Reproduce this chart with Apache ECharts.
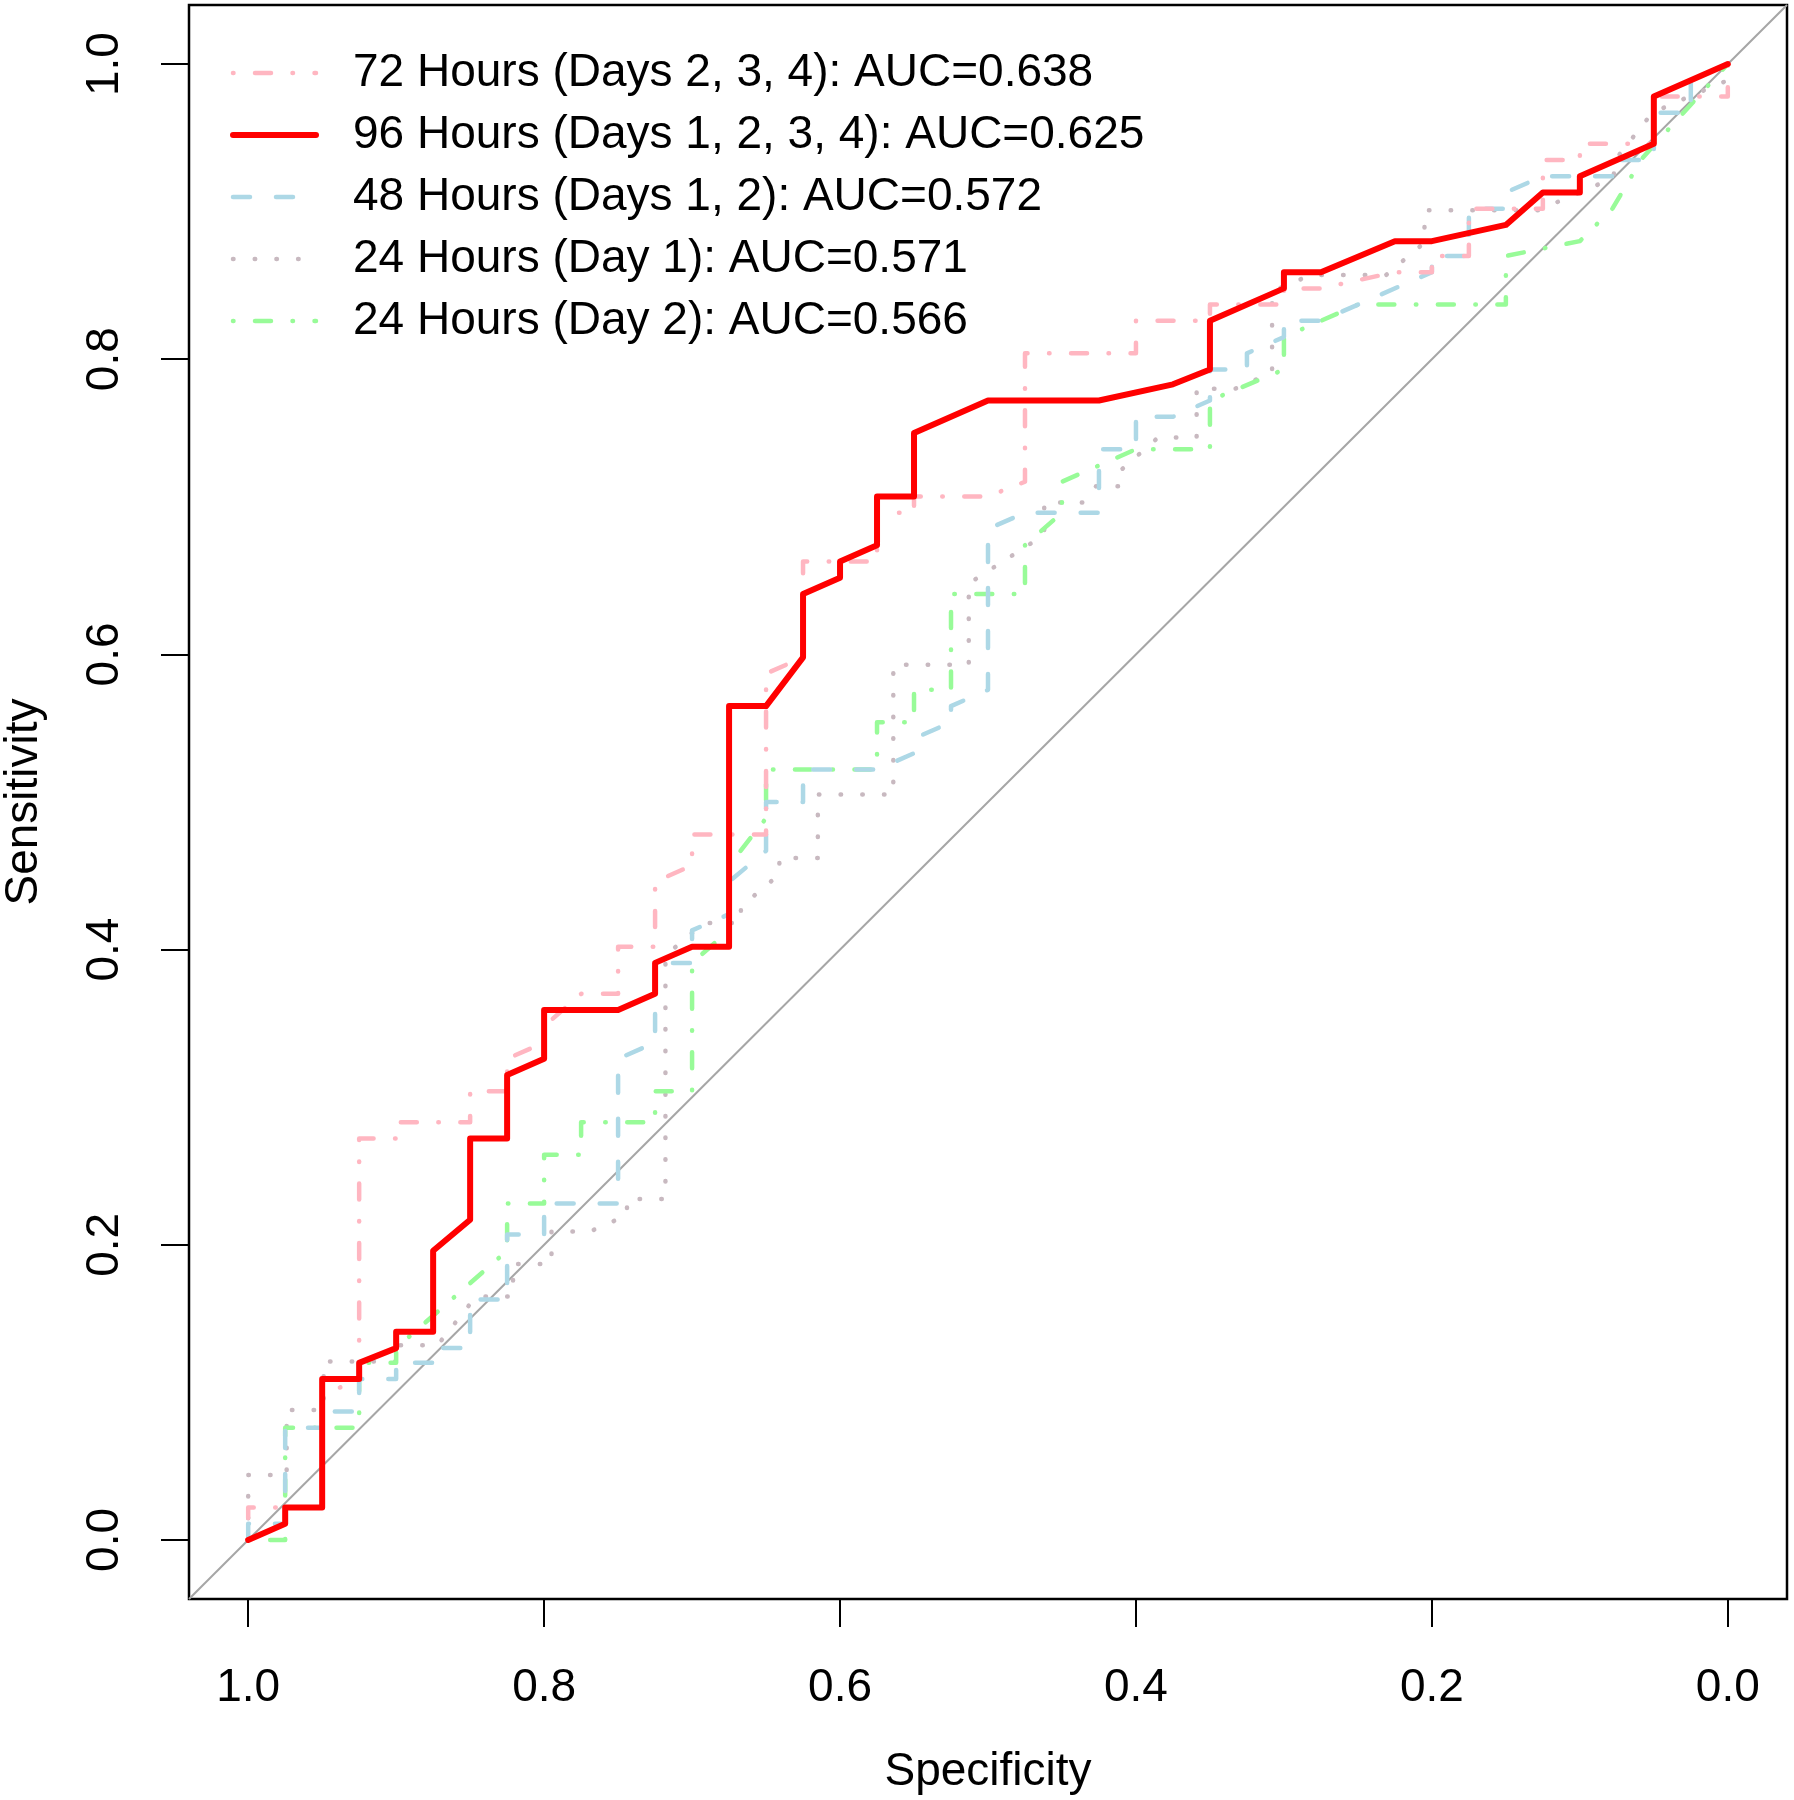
<!DOCTYPE html>
<html>
<head>
<meta charset="utf-8">
<script src="https://cdn.jsdelivr.net/npm/echarts@6/dist/echarts.min.js"></script>
<style>
  html, body { margin: 0; padding: 0; background: #fff; }
  #chart { width: 1794px; height: 1800px; }
</style>
</head>
<body>
<div id="chart"></div>
<script>
// ---------------- DATA ----------------
// Each point: [specificity, sensitivity]
const roc72h = [
  [1,0],[1,0.022],[0.95,0.022],[0.95,0.098],[0.925,0.109],[0.925,0.272],[0.9,0.272],[0.9,0.283],
  [0.85,0.283],[0.85,0.304],[0.825,0.304],[0.825,0.326],[0.8,0.337],[0.8,0.348],[0.775,0.370],
  [0.75,0.370],[0.75,0.402],[0.725,0.402],[0.725,0.446],[0.7,0.457],[0.7,0.478],[0.65,0.478],
  [0.65,0.587],[0.625,0.598],[0.625,0.663],[0.575,0.663],[0.575,0.696],[0.55,0.696],[0.55,0.707],
  [0.5,0.707],[0.475,0.717],[0.475,0.804],[0.4,0.804],[0.4,0.826],[0.35,0.826],[0.35,0.837],
  [0.3,0.837],[0.3,0.848],[0.275,0.848],[0.225,0.859],[0.2,0.859],[0.2,0.870],[0.175,0.870],
  [0.175,0.902],[0.125,0.902],[0.125,0.935],[0.1,0.935],[0.1,0.946],[0.05,0.946],[0.05,0.978],
  [0,0.978],[0,1]
];
const roc96h = [
  [1,0],[0.975,0.011],[0.975,0.022],[0.95,0.022],[0.95,0.109],[0.925,0.109],[0.925,0.120],
  [0.9,0.130],[0.9,0.141],[0.875,0.141],[0.875,0.196],[0.85,0.217],[0.85,0.272],[0.825,0.272],
  [0.825,0.315],[0.8,0.326],[0.8,0.359],[0.75,0.359],[0.725,0.370],[0.725,0.391],[0.7,0.402],
  [0.675,0.402],[0.675,0.565],[0.65,0.565],[0.625,0.598],[0.625,0.641],[0.6,0.652],[0.6,0.663],
  [0.575,0.674],[0.575,0.707],[0.55,0.707],[0.55,0.750],[0.5,0.772],[0.425,0.772],[0.375,0.783],
  [0.35,0.793],[0.35,0.826],[0.3,0.848],[0.3,0.859],[0.275,0.859],[0.225,0.880],[0.2,0.880],
  [0.15,0.891],[0.125,0.913],[0.1,0.913],[0.1,0.924],[0.05,0.946],[0.05,0.978],[0,1]
];
const roc48h = [
  [1,0],[1,0.011],[0.975,0.011],[0.975,0.076],[0.95,0.076],[0.95,0.087],[0.925,0.087],
  [0.925,0.109],[0.9,0.109],[0.9,0.120],[0.875,0.120],[0.875,0.130],[0.85,0.130],[0.85,0.163],
  [0.825,0.163],[0.825,0.207],[0.8,0.207],[0.8,0.228],[0.75,0.228],[0.75,0.326],[0.725,0.337],
  [0.725,0.391],[0.7,0.391],[0.7,0.413],[0.675,0.424],[0.675,0.446],[0.65,0.467],[0.65,0.500],
  [0.625,0.500],[0.625,0.522],[0.575,0.522],[0.55,0.533],[0.55,0.543],[0.525,0.554],[0.525,0.565],
  [0.5,0.576],[0.5,0.685],[0.475,0.696],[0.425,0.696],[0.425,0.739],[0.4,0.739],[0.4,0.761],
  [0.375,0.761],[0.35,0.772],[0.35,0.793],[0.325,0.793],[0.325,0.804],[0.3,0.815],[0.3,0.826],
  [0.275,0.826],[0.2,0.859],[0.2,0.870],[0.175,0.870],[0.175,0.902],[0.15,0.902],[0.15,0.913],
  [0.125,0.924],[0.075,0.924],[0.075,0.935],[0.05,0.935],[0.05,0.967],[0.025,0.967],
  [0.025,0.989],[0,1]
];
const roc24hDay1 = [
  [1,0],[1,0.044],[0.974,0.044],[0.974,0.088],[0.949,0.088],[0.949,0.121],[0.897,0.121],
  [0.897,0.132],[0.872,0.132],[0.846,0.165],[0.821,0.165],[0.821,0.187],[0.795,0.187],
  [0.795,0.209],[0.769,0.209],[0.744,0.220],[0.744,0.231],[0.718,0.231],[0.718,0.396],
  [0.692,0.418],[0.667,0.418],[0.667,0.429],[0.641,0.451],[0.641,0.462],[0.615,0.462],
  [0.615,0.505],[0.564,0.505],[0.564,0.593],[0.513,0.593],[0.513,0.648],[0.462,0.681],
  [0.462,0.703],[0.436,0.703],[0.427,0.714],[0.410,0.714],[0.410,0.725],[0.385,0.747],
  [0.359,0.747],[0.359,0.780],[0.333,0.780],[0.308,0.791],[0.308,0.846],[0.282,0.857],
  [0.231,0.857],[0.205,0.879],[0.205,0.901],[0.128,0.901],[0.077,0.923],[0.077,0.934],
  [0.051,0.967],[0.026,0.978],[0,0.989],[0,1]
];
const roc24hDay2 = [
  [1,0],[0.975,0],[0.975,0.076],[0.925,0.076],[0.925,0.120],[0.9,0.120],[0.9,0.130],
  [0.825,0.196],[0.825,0.228],[0.8,0.228],[0.8,0.261],[0.775,0.261],[0.775,0.283],[0.725,0.283],
  [0.725,0.304],[0.7,0.304],[0.7,0.391],[0.675,0.413],[0.675,0.457],[0.65,0.489],[0.65,0.522],
  [0.575,0.522],[0.575,0.554],[0.55,0.554],[0.55,0.576],[0.525,0.576],[0.525,0.641],[0.475,0.641],
  [0.475,0.674],[0.45,0.696],[0.45,0.717],[0.4,0.739],[0.35,0.739],[0.35,0.772],[0.3,0.793],
  [0.3,0.815],[0.25,0.837],[0.15,0.837],[0.15,0.870],[0.1,0.880],[0.078,0.902],[0.058,0.936],
  [0.03,0.967],[0,1]
];
const identityLine = [[1.04,-0.04],[-0.04,1.04]];

const legendNames = [
  '72 Hours (Days 2, 3, 4): AUC=0.638',
  '96 Hours (Days 1, 2, 3, 4): AUC=0.625',
  '48 Hours (Days 1, 2): AUC=0.572',
  '24 Hours (Day 1): AUC=0.571',
  '24 Hours (Day 2): AUC=0.566'
];
const specTicks = [0, 0.2, 0.4, 0.6, 0.8, 1.0];
const sensTicks = [0, 0.2, 0.4, 0.6, 0.8, 1.0];

// ---------------- STYLE ----------------
const FONT = "'Liberation Sans', Arial, Helvetica, sans-serif";
const FS = 46;
const dotDash = [0.5, 21.5, 16, 21.5];
const dashed = [17, 26];
const dotted = [0.5, 21.2];

function rocSeries(name, data, color, width, dash) {
  return {
    name: name,
    type: 'line',
    data: data,
    symbol: 'none',
    showSymbol: false,
    silent: true,
    lineStyle: { color: color, width: width, type: dash || 'solid', cap: 'round', join: 'round' },
    itemStyle: { color: color }
  };
}

const chart = echarts.init(document.getElementById('chart'), null, { renderer: 'canvas' });
const axisFont = { fontSize: FS, fontFamily: FONT, color: '#000', lineHeight: FS };

chart.setOption({
  animation: false,
  backgroundColor: '#ffffff',
  grid: {
    left: 189, right: 7, top: 5, bottom: 201,
    containLabel: false, outerBoundsMode: 'none',
    show: true, borderColor: '#000', borderWidth: 2.5, backgroundColor: 'transparent'
  },
  xAxis: {
    type: 'value', inverse: true, min: -0.04, max: 1.04,
    axisLine: { show: false, onZero: false },
    splitLine: { show: false },
    axisTick: { show: true, customValues: specTicks, length: 28, lineStyle: { color: '#000', width: 2 } },
    axisLabel: Object.assign({ customValues: specTicks, margin: 66, formatter: v => v.toFixed(1) }, axisFont),
    name: 'Specificity', nameLocation: 'middle', nameGap: 150,
    nameTextStyle: axisFont
  },
  yAxis: {
    type: 'value', min: -0.04, max: 1.04,
    axisLine: { show: false, onZero: false },
    splitLine: { show: false },
    axisTick: { show: true, customValues: sensTicks, length: 28, lineStyle: { color: '#000', width: 2 } },
    axisLabel: Object.assign({ customValues: sensTicks, margin: 61, rotate: 90, formatter: v => v.toFixed(1) }, axisFont),
    name: 'Sensitivity', nameLocation: 'middle', nameGap: 142,
    nameTextStyle: axisFont
  },
  legend: {
    show: true, orient: 'vertical', left: 225, top: 45,
    itemWidth: 83, itemHeight: 14, itemGap: 16,
    data: legendNames,
    lineStyle: { width: 'inherit' },
    itemStyle: { opacity: 0, color: 'rgba(0,0,0,0)', borderWidth: 0 },
    textStyle: { fontSize: FS, fontFamily: FONT, color: '#000', lineHeight: FS, padding: [0, 0, 0, 32] },
    selectedMode: false
  },
  series: [
    {
      name: 'identity', type: 'line', data: identityLine, symbol: 'none', silent: true,
      lineStyle: { color: '#a6a6a6', width: 2 }
    },
    rocSeries(legendNames[3], roc24hDay1, '#c8b9c0', 4.5, dotted),
    rocSeries(legendNames[4], roc24hDay2, '#98fb98', 4.5, dotDash),
    rocSeries(legendNames[2], roc48h, '#add8e6', 4.5, dashed),
    rocSeries(legendNames[0], roc72h, '#ffb6c1', 4.5, dotDash),
    rocSeries(legendNames[1], roc96h, '#ff0000', 6, null)
  ]
});
</script>
</body>
</html>
